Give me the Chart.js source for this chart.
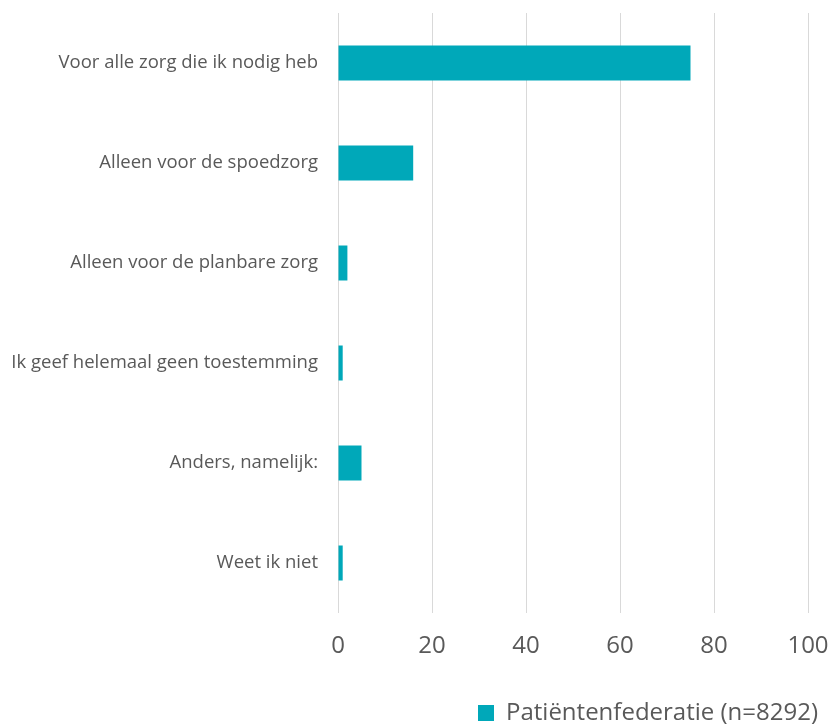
<!DOCTYPE html>
<html>
<head>
<meta charset="utf-8">
<script src="https://cdn.jsdelivr.net/npm/chart.js@4/dist/chart.umd.min.js"></script>
<style>
  html, body { margin: 0; padding: 0; background: #fff; }
  #wrap { width: 834px; height: 725px; }
</style>
</head>
<body>
<div id="wrap"><canvas id="report" width="834" height="725"></canvas></div>
<script>
const categories = [
    "Voor alle zorg die ik nodig heb",
    "Alleen voor de spoedzorg",
    "Alleen voor de planbare zorg",
    "Ik geef helemaal geen toestemming",
    "Anders, namelijk:",
    "Weet ik niet"
];
const values = [75, 16, 2, 1, 5, 1];
const seriesName = "Patiëntenfederatie (n=8292)";
const xTicks = [0, 20, 40, 60, 80, 100];

const CHART = document.getElementById("report");
var barChart = new Chart(CHART, {
    type: 'bar',
    data: {
        labels: categories,
        datasets: [
            {
                label: seriesName,
                data: values,
                backgroundColor: '#00A8B9',
                borderWidth: 0,
                barPercentage: 0.35,
                categoryPercentage: 1.0
            }
        ]
    },
    options: {
        indexAxis: 'y',
        responsive: false,
        animation: false,
        layout: { autoPadding: false, padding: { top: 13, right: 6, left: 0, bottom: -10 } },
        scales: {
            x: {
                min: 0,
                max: 100,
                afterBuildTicks: (scale) => { scale.ticks = xTicks.map(v => ({ value: v })); },
                grid: { color: '#d9d9d9', lineWidth: 1, drawTicks: false },
                border: { display: false },
                ticks: { color: '#595959', padding: 19, font: { family: 'Open Sans', size: 24 } },
                afterFit: (scale) => {
                    scale.height = 78;
                    scale.paddingLeft = 0;
                    scale.paddingRight = 0;
                }
            },
            y: {
                grid: { display: false, drawTicks: false },
                border: { display: false },
                ticks: { color: '#595959', padding: 20, font: { family: 'Open Sans', size: 18.5 } },
                afterFit: (scale) => {
                    scale.width = 338;
                    scale.paddingTop = 0;
                    scale.paddingBottom = 0;
                }
            },
            // empty spacer on the right so the legend can run past the plot
            spacer: {
                type: 'linear',
                position: 'right',
                grid: { display: false },
                border: { display: false },
                ticks: { display: false },
                afterFit: (scale) => {
                    scale.width = 20;
                    scale.paddingTop = 0;
                    scale.paddingBottom = 0;
                }
            }
        },
        plugins: {
            legend: {
                display: true,
                position: 'bottom',
                align: 'end',
                labels: {
                    color: '#595959',
                    boxWidth: 16,
                    boxHeight: 16,
                    padding: 10,
                    font: { family: 'Open Sans', size: 24 }
                }
            },
            tooltip: { enabled: false }
        }
    }
});
</script>
</body>
</html>
